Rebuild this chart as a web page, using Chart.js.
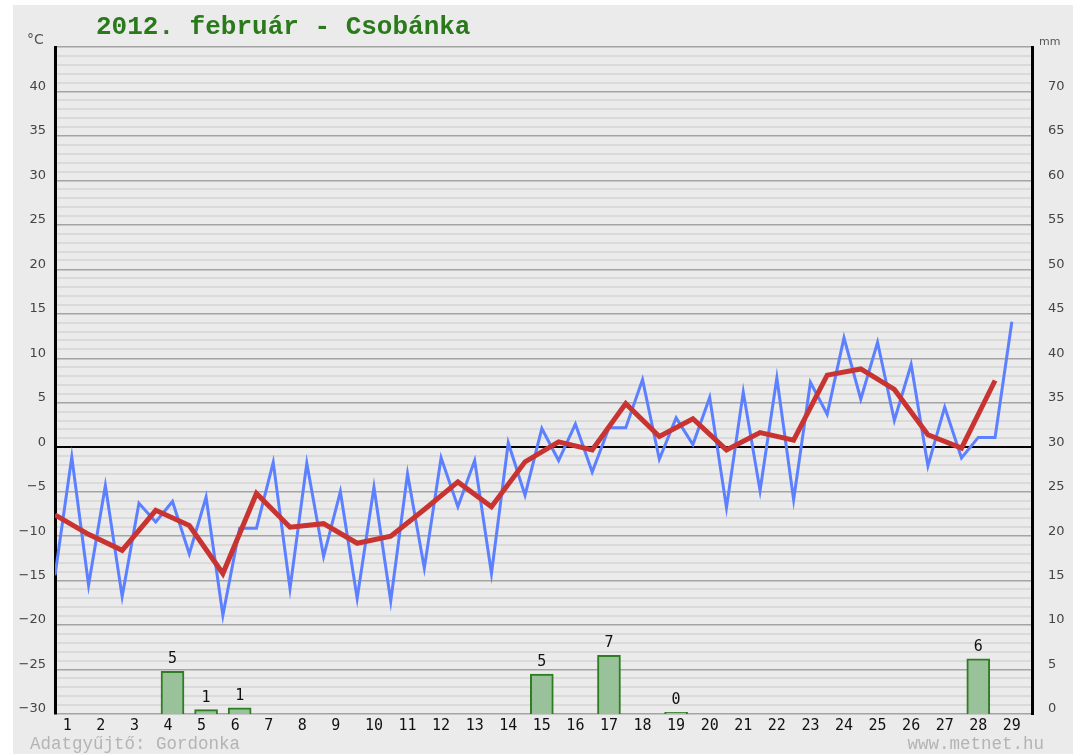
<!DOCTYPE html>
<html lang="hu">
<head>
    <meta charset="UTF-8">
    <title>2012. február - Csobánka</title>
    <script src="https://cdn.jsdelivr.net/npm/chart.js"></script>
    <style>
        body { margin: 0; background: #fff; }
        #wrap { width: 1073px; height: 754px; }
    </style>
</head>
<body>
    <div id="wrap"><canvas id="chart"></canvas></div>
    <script>
        // days of the month
        const days = [1, 2, 3, 4, 5, 6, 7, 8, 9, 10, 11, 12, 13, 14, 15, 16, 17, 18, 19, 20, 21, 22, 23, 24, 25, 26, 27, 28, 29];

        // temperature readings, two per day (°C)
        const tempReadings = [
            -14.4, -1.1, -15.5, -4.3, -16.8, -6.3, -8.4, -6.1, -12.0, -5.6,
            -18.9, -9.1, -9.1, -1.7, -15.9, -1.8, -12.3, -5.0, -17.0, -4.5,
            -17.3, -3.0, -13.6, -1.2, -6.7, -1.5, -14.2, 0.5, -5.4, 2.1,
            -1.5, 2.6, -2.8, 2.2, 2.2, 7.6, -1.35, 3.3, 0.3, 5.6,
            -6.8, 6.2, -4.9, 7.8, -5.9, 7.3, 3.7, 12.3, 5.4, 11.8,
            3.0, 9.3, -2.1, 4.5, -1.2, 1.1, 1.1, 14.1
        ];

        // daily mean temperature (°C)
        const dailyMean = [
            -7.6, -9.8, -11.6, -7.1, -8.8, -14.2, -5.2, -9.0, -8.6, -10.8,
            -10.0, -7.0, -3.9, -6.7, -1.65, 0.6, -0.3, 4.9, 1.2, 3.2,
            -0.3, 1.65, 0.8, 8.1, 8.8, 6.5, 1.4, -0.1, 7.5
        ];

        // daily precipitation (mm), null = none
        const precipMm = [
            null, null, null, 4.8, 0.5, 0.7, null, null, null, null,
            null, null, null, null, 4.5, null, 6.6, null, 0.2, null,
            null, null, null, null, null, null, null, 6.2, null
        ];

        const tempTicks = [-30, -25, -20, -15, -10, -5, 0, 5, 10, 15, 20, 25, 30, 35, 40];
        const mmTicks = [0, 5, 10, 15, 20, 25, 30, 35, 40, 45, 50, 55, 60, 65, 70];

        const W = 1073, H = 754;

        const decor = {
            id: 'decor',
            beforeDraw(chart) {
                const c = chart.ctx;
                c.save();
                c.fillStyle = '#ffffff';
                c.fillRect(0, 0, W, H);
                c.fillStyle = '#ebebeb';
                c.fillRect(13, 5, W - 13, H - 5);
                c.restore();
            },
            afterDatasetsDraw(chart) {
                // values above the precipitation bars
                const c = chart.ctx;
                const meta = chart.getDatasetMeta(0);
                c.save();
                c.font = '15px "DejaVu Sans Mono"';
                c.fillStyle = '#111';
                c.textAlign = 'center';
                c.textBaseline = 'alphabetic';
                meta.data.forEach((bar, i) => {
                    const v = chart.data.datasets[0].data[i].y;
                    if (v === null) return;
                    c.fillText(String(Math.round(v)), bar.x, bar.y - 8);
                });
                c.restore();
            },
            afterDraw(chart) {
                const c = chart.ctx;
                c.save();
                c.textBaseline = 'middle';
                c.fillStyle = '#2a7a1c';
                c.font = 'bold 26px "Liberation Mono"';
                c.textAlign = 'left';
                c.fillText('2012. február - Csobánka', 96, 27);

                c.fillStyle = '#555';
                c.font = '14px "DejaVu Sans"';
                c.fillText('°C', 27, 40);
                c.font = '11px "DejaVu Sans"';
                c.fillText('mm', 1039, 42);

                c.fillStyle = '#b4b4b4';
                c.font = '17.5px "Liberation Mono"';
                c.fillText('Adatgyűjtő: Gordonka', 30, 744);
                c.textAlign = 'right';
                c.fillText('www.metnet.hu', 1044, 744);
                c.restore();
            }
        };

        const ctx = document.getElementById('chart').getContext('2d');
        const chart = new Chart(ctx, {
            data: {
                datasets: [{
                    type: 'bar',
                    data: days.map((d, i) => ({ x: d - 0.5, y: precipMm[i] })),
                    yAxisID: 'y2',
                    backgroundColor: '#99c29b',
                    borderColor: '#2f7d22',
                    borderWidth: 2,
                    barThickness: 23,
                    order: 3
                }, {
                    type: 'line',
                    data: tempReadings.map((t, k) => ({ x: k / 2, y: t })),
                    yAxisID: 'y',
                    borderColor: 'rgb(92, 128, 255)',
                    borderWidth: 3,
                    pointRadius: 0,
                    tension: 0,
                    order: 2
                }, {
                    type: 'line',
                    data: dailyMean.map((t, i) => ({ x: days[i] - 1, y: t })),
                    yAxisID: 'y',
                    borderColor: 'rgb(200, 52, 50)',
                    borderWidth: 5,
                    pointRadius: 0,
                    tension: 0,
                    order: 1
                }]
            },
            options: {
                responsive: true,
                maintainAspectRatio: false,
                animation: false,
                layout: { padding: { top: 47, left: 0, right: 0, bottom: 0 } },
                plugins: {
                    legend: { display: false },
                    tooltip: { enabled: false }
                },
                scales: {
                    x: {
                        type: 'linear',
                        offset: false,
                        min: 0,
                        max: 29.1,
                        afterFit: (s) => { s.height = 40; },
                        afterBuildTicks: (s) => { s.ticks = days.map(d => ({ value: d - 0.5 })); },
                        grid: { display: false, drawTicks: false },
                        border: { display: false },
                        ticks: {
                            autoSkip: false,
                            maxRotation: 0,
                            padding: 3,
                            color: '#111',
                            font: { family: 'DejaVu Sans Mono', size: 15 },
                            // single digit labels sit left like in the original
                            callback: (v) => {
                                const d = Math.round(v + 0.5);
                                return d < 10 ? d + ' ' : String(d);
                            }
                        }
                    },
                    y: {
                        position: 'left',
                        min: -30,
                        max: 45,
                        afterFit: (s) => { s.width = 55; },
                        afterBuildTicks: (s) => {
                            const t = [];
                            for (let v = -30; v <= 45; v++) t.push({ value: v });
                            s.ticks = t;
                        },
                        border: { display: true, color: '#000', width: 3 },
                        grid: {
                            drawTicks: false,
                            color: (c) => {
                                const v = c.tick.value;
                                if (v === 0) return '#000';
                                return v % 5 === 0 ? '#a4a4a4' : '#dadada';
                            },
                            lineWidth: (c) => {
                                const v = c.tick.value;
                                if (v === 0) return 2;
                                return v % 5 === 0 ? 1.5 : 2;
                            }
                        },
                        ticks: {
                            autoSkip: false,
                            padding: 9,
                            labelOffset: -5,
                            color: '#444',
                            font: { family: 'DejaVu Sans', size: 13 },
                            callback: (v) => tempTicks.includes(v) ? String(v).replace('-', '\u2212') : ''
                        }
                    },
                    y2: {
                        position: 'right',
                        min: 0,
                        max: 75,
                        afterFit: (s) => { s.width = W - 1032; },
                        afterBuildTicks: (s) => { s.ticks = mmTicks.map(v => ({ value: v })); },
                        border: { display: true, color: '#000', width: 3 },
                        grid: { display: false },
                        ticks: {
                            autoSkip: false,
                            padding: 8,
                            labelOffset: -5,
                            color: '#444',
                            font: { family: 'DejaVu Sans', size: 13 }
                        }
                    }
                }
            },
            plugins: [decor]
        });
    </script>
</body>
</html>
